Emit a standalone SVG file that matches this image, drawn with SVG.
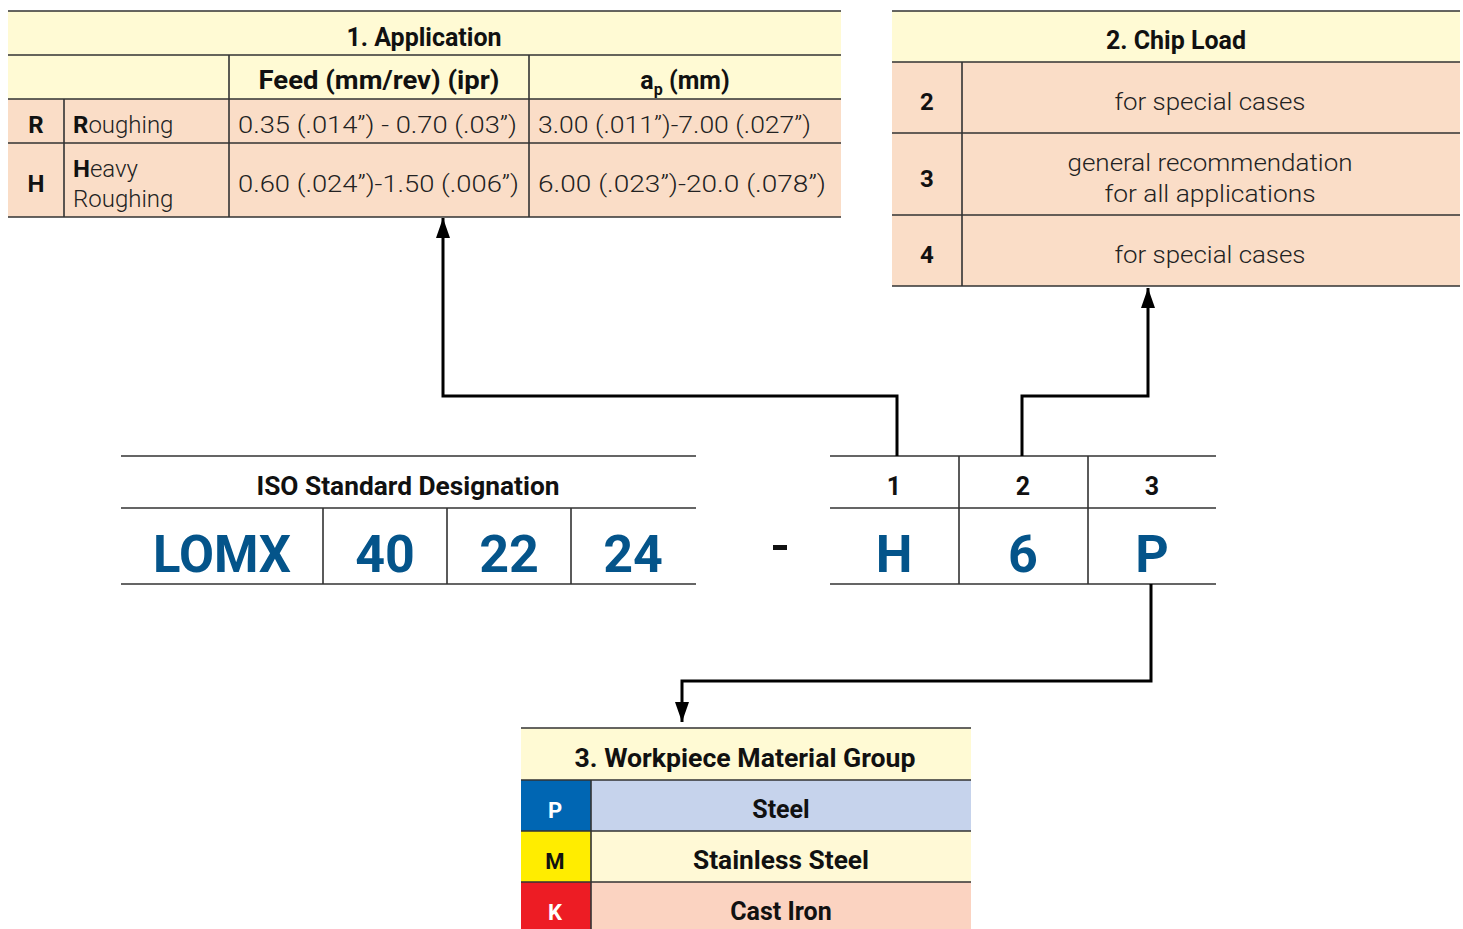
<svg xmlns="http://www.w3.org/2000/svg" width="1463" height="929" viewBox="0 0 1463 929">
<defs>
<marker id="arr" markerUnits="userSpaceOnUse" markerWidth="20" markerHeight="14" refX="20" refY="7" orient="auto" viewBox="0 0 20 14">
<path d="M0,0 L20,7 L0,14 Z" fill="#000"/>
</marker>
<style>
text{font-family:Roboto,"Liberation Sans",sans-serif;fill:#111}
.b{font-weight:700}
.l{font-weight:300;fill:#222}
.big{font-family:Roboto,"Liberation Sans",sans-serif;font-weight:700;font-size:52px;fill:#04548A}
.c{text-anchor:middle}
.g{stroke:#333;stroke-width:1.6;fill:none}
.y{fill:#FFFAD4}
.pe{fill:#FADDC7}
.conn{stroke:#000;stroke-width:3;fill:none}
</style>
</defs>
<rect width="1463" height="929" fill="#fff"/>

<g id="table-application">
<rect class="y" x="8" y="11" width="833" height="88"/>
<rect class="pe" x="8" y="99" width="833" height="118"/>
<path class="g" d="M8,11H841M8,55H841M8,99H841M8,143H841M8,217H841M64,99V217M229,55V217M529,55V217"/>
<text class="b c" x="424" y="46" font-size="25">1. Application</text>
<text class="b c" x="379" y="89" font-size="25" textLength="241" lengthAdjust="spacingAndGlyphs">Feed (mm/rev) (ipr)</text>
<text class="b c" x="685" y="89" font-size="25">a<tspan font-size="16" dy="6">p</tspan><tspan dy="-6"> (mm)</tspan></text>
<text class="b c" x="36" y="133" font-size="24">R</text>
<text x="73" y="133" font-size="24" class="l"><tspan class="b" style="fill:#111">R</tspan>oughing</text>
<text class="l" x="238" y="133" font-size="24" textLength="279" lengthAdjust="spacingAndGlyphs">0.35 (.014”) - 0.70 (.03”)</text>
<text class="l" x="538" y="133" font-size="24" textLength="273" lengthAdjust="spacingAndGlyphs">3.00 (.011”)-7.00 (.027”)</text>
<text class="b c" x="36" y="192" font-size="24">H</text>
<text x="73" y="177" font-size="24" class="l"><tspan class="b" style="fill:#111">H</tspan>eavy</text>
<text x="73" y="207" font-size="24" class="l">Roughing</text>
<text class="l" x="238" y="192" font-size="24" textLength="281" lengthAdjust="spacingAndGlyphs">0.60 (.024”)-1.50 (.006”)</text>
<text class="l" x="538" y="192" font-size="24" textLength="288" lengthAdjust="spacingAndGlyphs">6.00 (.023”)-20.0 (.078”)</text>
</g>

<g id="table-chipload">
<rect class="y" x="892" y="11" width="568" height="51"/>
<rect class="pe" x="892" y="62" width="568" height="224"/>
<path class="g" d="M892,11H1460M892,62H1460M892,133H1460M892,215H1460M892,286H1460M962,62V286"/>
<text class="b c" x="1176" y="49" font-size="25">2. Chip Load</text>
<text class="b c" x="927" y="110" font-size="24">2</text>
<text class="l c" x="1210" y="110" font-size="24" textLength="191" lengthAdjust="spacingAndGlyphs">for special cases</text>
<text class="b c" x="927" y="187" font-size="24">3</text>
<text class="l c" x="1210" y="171" font-size="24" textLength="285" lengthAdjust="spacingAndGlyphs">general recommendation</text>
<text class="l c" x="1210" y="202" font-size="24" textLength="211" lengthAdjust="spacingAndGlyphs">for all applications</text>
<text class="b c" x="927" y="263" font-size="24">4</text>
<text class="l c" x="1210" y="263" font-size="24" textLength="191" lengthAdjust="spacingAndGlyphs">for special cases</text>
</g>

<g id="iso-designation">
<path class="g" d="M121,456H696M121,508H696M121,584H696M323,508V584M447,508V584M571,508V584"/>
<text class="b c" x="408" y="495" font-size="25" textLength="303" lengthAdjust="spacingAndGlyphs">ISO Standard Designation</text>
<text class="big c" x="222" y="572" textLength="138" lengthAdjust="spacingAndGlyphs">LOMX</text>
<text class="big c" x="385" y="572">40</text>
<text class="big c" x="509" y="572">22</text>
<text class="big c" x="633" y="572">24</text>
</g>

<g id="dash">
<rect x="773" y="545" width="14" height="5" fill="#111"/>
</g>

<g id="code-table">
<path class="g" d="M830,456H1216M830,508H1216M830,584H1216M959,456V584M1088,456V584"/>
<text class="b c" x="894" y="495" font-size="25">1</text>
<text class="b c" x="1023" y="495" font-size="25">2</text>
<text class="b c" x="1152" y="495" font-size="25">3</text>
<text class="big c" x="894" y="572">H</text>
<text class="big c" x="1023" y="572">6</text>
<text class="big c" x="1152" y="572">P</text>
</g>

<g id="connectors">
<path class="conn" d="M897,456V396H443V218" marker-end="url(#arr)"/>
<path class="conn" d="M1022,456V396H1148V288" marker-end="url(#arr)"/>
<path class="conn" d="M1151,584V681H682V722" marker-end="url(#arr)"/>
</g>

<g id="table-material">
<rect class="y" x="521" y="728" width="450" height="52"/>
<rect x="521" y="780" width="70" height="51" fill="#0066B3"/>
<rect x="591" y="780" width="380" height="51" fill="#C6D3EC"/>
<rect x="521" y="831" width="70" height="51" fill="#FFED00"/>
<rect x="591" y="831" width="380" height="51" fill="#FFF9D6"/>
<rect x="521" y="882" width="70" height="47" fill="#ED1C24"/>
<rect x="591" y="882" width="380" height="47" fill="#FBD3C1"/>
<path class="g" d="M521,728H971M521,780H971M521,831H971M521,882H971M591,780V929"/>
<text class="b c" x="745" y="767" font-size="25" textLength="341" lengthAdjust="spacingAndGlyphs">3. Workpiece Material Group</text>
<text class="b c" x="555" y="818" font-size="22" style="fill:#fff">P</text>
<text class="b c" x="781" y="818" font-size="25">Steel</text>
<text class="b c" x="555" y="869" font-size="22">M</text>
<text class="b c" x="781" y="869" font-size="25" textLength="176" lengthAdjust="spacingAndGlyphs">Stainless Steel</text>
<text class="b c" x="555" y="920" font-size="22" style="fill:#fff">K</text>
<text class="b c" x="781" y="920" font-size="25">Cast Iron</text>
</g>
</svg>
